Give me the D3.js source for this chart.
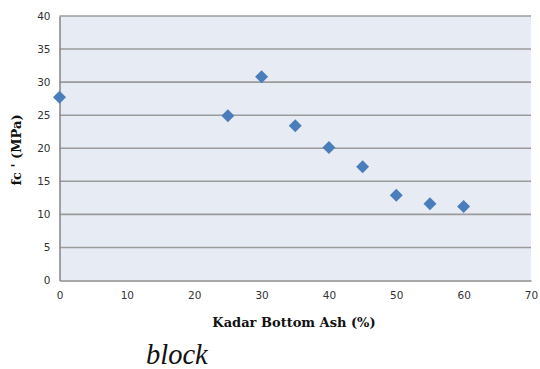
<!DOCTYPE html>
<html><head><meta charset="utf-8">
<script src="https://cdn.jsdelivr.net/npm/d3@7"></script>
<style>body{margin:0;background:#fff}svg{display:block}</style>
</head><body>
<svg id="c" width="540" height="369"></svg>
<script>
const xValues = [0, 25, 30, 35, 40, 45, 50, 55, 60];
const yValues = [27.7, 24.9, 30.8, 23.4, 20.1, 17.2, 12.9, 11.6, 11.2];
const xTicks = [0, 10, 20, 30, 40, 50, 60, 70];
const yTicks = [0, 5, 10, 15, 20, 25, 30, 35, 40];
const xTitle = "Kadar Bottom Ash (%)";
const yTitle = "fc ' (MPa)";
const caption = "block";

const svg = d3.select("#c");
const L = 59.5, R = 531, T = 16, B = 280.5;
const x = d3.scaleLinear().domain([0, 70]).range([L, R]);
const y = d3.scaleLinear().domain([0, 40]).range([B, T]);

svg.append("rect").attr("x", L).attr("y", T).attr("width", R - L).attr("height", B - T).attr("fill", "#e7ebf3");

svg.append("g").selectAll("line").data(yTicks.filter(d => d > 0)).join("line")
  .attr("x1", L).attr("x2", R).attr("y1", d => y(d)).attr("y2", d => y(d))
  .attr("stroke", "#9b9b9b").attr("stroke-width", 1.6);

const yAxis = svg.append("g").attr("transform", `translate(${L},0)`)
  .call(d3.axisLeft(y).tickValues(yTicks).tickSize(0).tickPadding(9));
const xAxis = svg.append("g").attr("transform", `translate(0,${B})`)
  .call(d3.axisBottom(x).tickValues(xTicks).tickSize(0).tickPadding(11));
[yAxis, xAxis].forEach(a => {
  a.select(".domain").attr("stroke", "#8c8c8c").attr("stroke-width", 1.6);
  a.selectAll("text").attr("font-family", "DejaVu Sans, Verdana, sans-serif").attr("font-size", 10.5).attr("fill", "#333");
});

svg.append("g").selectAll("path").data(xValues.map((v, i) => [v, yValues[i]])).join("path")
  .attr("d", d3.symbol(d3.symbolSquare, 84)())
  .attr("transform", d => `translate(${x(d[0])},${y(d[1])}) rotate(45)`)
  .attr("fill", "#4a7ebb");

svg.append("text").attr("x", 294).attr("y", 327).attr("text-anchor", "middle")
  .attr("font-family", "DejaVu Serif, serif").attr("font-weight", "bold").attr("font-size", 13)
  .attr("fill", "#111").text(xTitle);

svg.append("text").attr("transform", "translate(21,150) rotate(-90)").attr("text-anchor", "middle")
  .attr("font-family", "DejaVu Serif, serif").attr("font-weight", "bold").attr("font-size", 13)
  .attr("fill", "#111").text(yTitle);

svg.append("text").attr("x", 146).attr("y", 364)
  .attr("font-family", "Liberation Serif, serif").attr("font-style", "italic").attr("font-size", 28.5)
  .attr("fill", "#111").text(caption);
</script>
</body></html>
